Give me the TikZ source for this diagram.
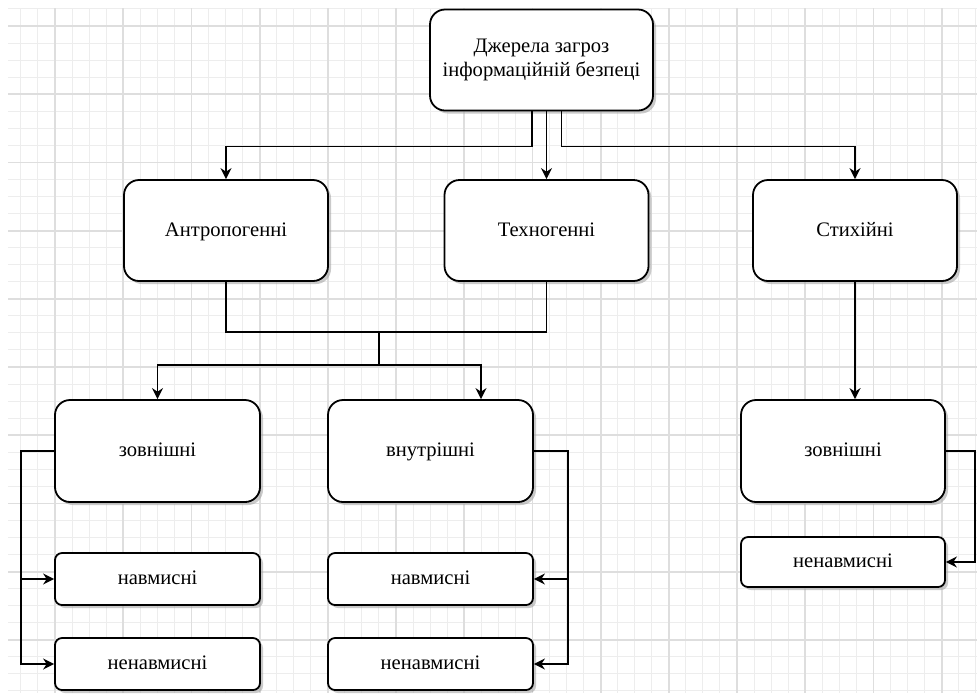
\documentclass[tikz,border=0pt]{standalone}
\usepackage{fontspec}
\setmainfont{Liberation Serif}
\usetikzlibrary{positioning,arrows.meta,shadows}

\begin{document}
\begin{tikzpicture}[x=0.5pt,y=-0.5pt,>={Stealth[length=5.5pt,width=5.5pt]},
				minorgrid/.style={draw=black!7,line width=0.5pt},
				majorgrid/.style={draw=black!13,line width=0.9pt},
				bigbox/.style={draw,line width=0.9pt,rounded corners=7.5pt,fill=white,
					drop shadow={shadow xshift=1.5pt,shadow yshift=-1.5pt,fill=black!35,opacity=.6},
					minimum width=102pt,minimum height=50.5pt,align=center,
					text height=1.6ex,text depth=.4ex,
					font=\fontsize{10.3}{12}\selectfont},
				smallbox/.style={bigbox,rounded corners=3.5pt,minimum height=26pt},
				conn/.style={line width=0.9pt}]
				\useasboundingbox (0,0) rectangle (977,693);
				% background grid
				\foreach \k in {-2,...,54}{
					\draw[minorgrid] ({55+17.05*\k},8) -- ({55+17.05*\k},693);
				}
				\foreach \k in {-1,...,39}{
					\draw[minorgrid] (8,{26+17.05*\k}) -- (977,{26+17.05*\k});
				}
				\foreach \k in {0,...,13}{
					\draw[majorgrid] ({55+68.2*\k},8) -- ({55+68.2*\k},693);
				}
				\foreach \k in {0,...,9}{
					\draw[majorgrid] (8,{26+68.2*\k}) -- (977,{26+68.2*\k});
				}
				
				\node[bigbox,minimum width=111.5pt,text height=,text depth=] (src) at (541.5,60) {Джерела загроз\\інформаційній безпеці};
				
				\node[bigbox] (ant) at (226,230.5) {Антропогенні};
				\node[bigbox] (tech) at (546.5,230.5) {Техногенні};
				\node[bigbox] (styx) at (855,230.5) {Стихійні};
				
				\node[bigbox,minimum width=102.5pt,minimum height=51pt] (zovn) at (157.5,451) {зовнішні};
				\node[bigbox,minimum width=102.5pt,minimum height=51pt] (vnut) at (430.5,451) {внутрішні};
				\node[bigbox,minimum width=102pt,minimum height=51pt] (zovnS) at (843,451) {зовнішні};
				
				\node[smallbox,minimum width=102.5pt] (navZ) at (157.5,579) {навмисні};
				\node[smallbox,minimum width=102.5pt] (nenavZ) at (157.5,664) {ненавмисні};
				\node[smallbox,minimum width=102.5pt] (navV) at (430.5,579) {навмисні};
				\node[smallbox,minimum width=102.5pt] (nenavV) at (430.5,664) {ненавмисні};
				\node[smallbox,minimum height=25pt] (nenavS) at (843,562) {ненавмисні};
				
				\draw[conn,->] ([xshift=-4.75pt]src.south) -- ++(0,35) -| (ant.north);
				\draw[conn,->] (src.south -| tech.north) -- (tech.north);
				\draw[conn,->] ([xshift=10pt]src.south) -- ++(0,35) -| (styx.north);
				
				\coordinate (join) at (379,332);
				\coordinate (split) at (379,365);
				\draw[conn] (ant.south) |- (join) -| (tech.south);
				\draw[conn] (join) -- (split);
				\draw[conn,->] (split) -| (zovn.north);
				\draw[conn,->] (split) -| ([xshift=25.25pt]vnut.north);
				\draw[conn,->] (styx.south) -- (styx.south |- zovnS.north);
				
				\foreach \t in {navZ,nenavZ}{
					\draw[conn,->] (zovn.west) -- ++(-33,0) |- (\t.west);
				}
				\foreach \t in {navV,nenavV}{
					\draw[conn,->] (vnut.east) -- ++(34,0) |- (\t.east);
				}
				\draw[conn,->] (zovnS.east) -- ++(29,0) |- (nenavS.east);
\end{tikzpicture}
\end{document}
